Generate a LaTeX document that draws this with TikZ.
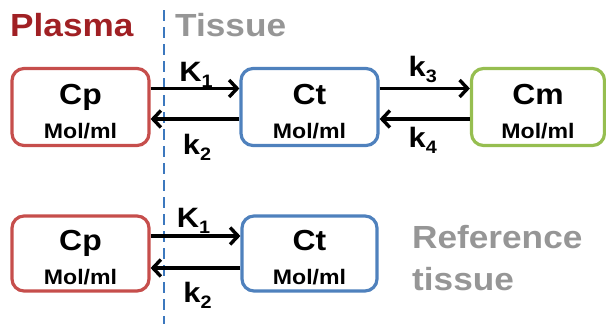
\documentclass[tikz,border=0pt]{standalone}
\usepackage{fontspec}
\setmainfont{Liberation Sans}[FakeStretch=1.1]
\usetikzlibrary{arrows.meta}
\definecolor{plasmared}{RGB}{160,32,36}
\definecolor{boxred}{RGB}{198,78,76}
\definecolor{boxblue}{RGB}{79,129,189}
\definecolor{boxgreen}{RGB}{150,190,80}
\definecolor{dashblue}{RGB}{60,120,190}
\definecolor{txtgray}{RGB}{150,150,150}
\newcommand{\bigname}[1]{{\fontsize{29}{34}\selectfont\rule{0pt}{29pt}#1}}
\newcommand{\ratesub}[1]{\raisebox{-6pt}{\fontsize{18}{18}\selectfont #1}}
\tikzset{
  compbox/.style={draw, line width=3.2pt, rounded corners=12pt, minimum width=134pt,
    minimum height=74pt, align=center, inner sep=0pt,
    font=\bfseries\fontsize{21}{34}\selectfont},
  flow/.style={line width=3.4pt, -{Straight Barb[length=8pt,width=17pt,line width=3.4pt]}},
  ratelbl/.style={font=\bfseries\fontsize{28}{28}\selectfont, inner sep=0pt},
  region/.style={font=\bfseries\fontsize{32}{36}\selectfont, inner sep=0pt, anchor=base west},
}
\begin{document}
\begin{tikzpicture}[x=1pt,y=-1pt]
\useasboundingbox (0,0) rectangle (606,324);
% region labels
\node[region, text=plasmared] (plasma) at (10,37) {Plasma};
\node[region, text=txtgray] (tissue) at (175,37) {Tissue};
\node[region, text=txtgray] (reftis) at (412,248) {Reference};
\node[region, text=txtgray] (reftis2) at (412,290) {tissue};
% divider
\coordinate (dtop) at (164,10);
\coordinate (dbot) at (164,324);
\draw[dashblue, line width=2pt, dash pattern=on 11pt off 6pt] (dtop) -- (dbot);
% top row
\node[compbox, draw=boxred, minimum width=137pt, minimum height=77pt] (cp) at (80.5,107) {\bigname{Cp}\\Mol/ml};
\node[compbox, draw=boxblue, minimum width=137pt, minimum height=77pt] (ct) at (309.5,107) {\bigname{Ct}\\Mol/ml};
\node[compbox, draw=boxgreen, minimum width=133pt, minimum height=77pt] (cm) at (538,107) {\bigname{Cm}\\Mol/ml};
\draw[flow] ([yshift=18.5pt]cp.east) -- node[ratelbl, anchor=base, yshift=7pt, xshift=1pt] (k1) {K\ratesub{1}} ([yshift=18.5pt]ct.west);
\draw[flow] ([yshift=-12pt]ct.west) -- node[ratelbl, anchor=base, yshift=-35pt, xshift=2pt] (k2) {k\ratesub{2}} ([yshift=-12pt]cp.east);
\draw[flow] ([yshift=18.5pt]ct.east) -- node[ratelbl, anchor=base, yshift=12pt, xshift=-2pt] (k3) {k\ratesub{3}} ([yshift=18.5pt]cm.west);
\draw[flow] ([yshift=-12pt]cm.west) -- node[ratelbl, anchor=base, yshift=-28pt, xshift=-2pt] (k4) {k\ratesub{4}} ([yshift=-12pt]ct.east);
% bottom row
\node[compbox, draw=boxred, minimum width=137pt, minimum height=75pt] (cpb) at (80.5,253.5) {\bigname{Cp}\\Mol/ml};
\node[compbox, draw=boxblue, minimum width=135pt, minimum height=75pt] (ctb) at (309.5,253.5) {\bigname{Ct}\\Mol/ml};
\draw[flow] ([yshift=17.5pt]cpb.east) -- node[ratelbl, anchor=base, yshift=9pt, xshift=-2pt] (k1b) {K\ratesub{1}} ([yshift=17.5pt]ctb.west);
\draw[flow] ([yshift=-14.5pt]ctb.west) -- node[ratelbl, anchor=base, yshift=-34pt, xshift=2pt] (k2b) {k\ratesub{2}} ([yshift=-14.5pt]cpb.east);
\end{tikzpicture}
\end{document}
